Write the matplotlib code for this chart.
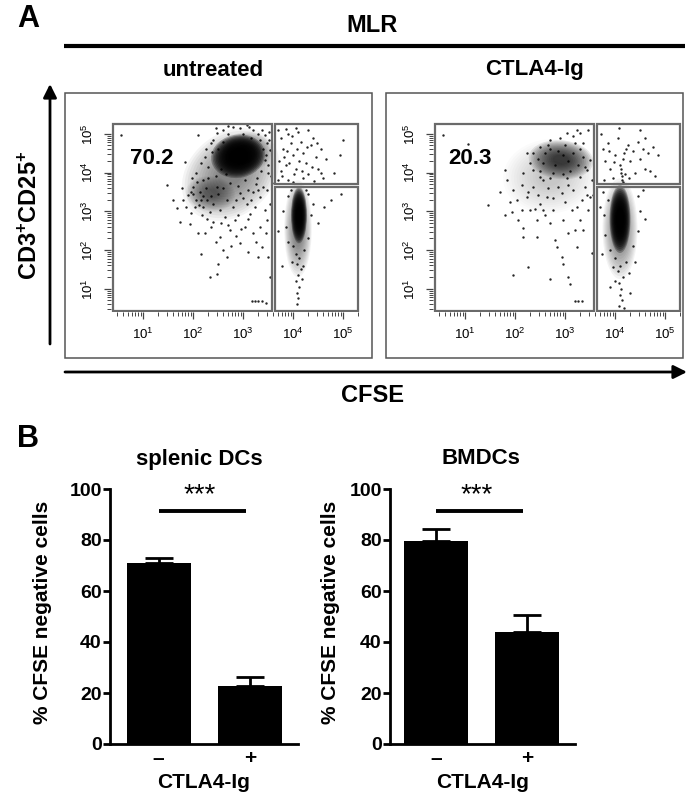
import matplotlib
matplotlib.use('Agg')
import matplotlib.pyplot as plt
from matplotlib.patches import Ellipse, Rectangle, FancyArrowPatch
from matplotlib.lines import Line2D
from matplotlib.ticker import FixedLocator
import numpy as np

plt.rcParams['font.family'] = ['Liberation Sans', 'DejaVu Sans']
plt.rcParams['mathtext.fontset'] = 'custom'
plt.rcParams['mathtext.rm'] = 'Liberation Sans'
plt.rcParams['mathtext.it'] = 'Liberation Sans:italic'
plt.rcParams['mathtext.bf'] = 'Liberation Sans:bold'

# ---------------- data ----------------
flow_conditions = ['untreated', 'CTLA4-Ig']
gate_percent = ['70.2', '20.3']
decades = [1, 2, 3, 4, 5]          # log10 fluorescence decades

# dense event clouds, log10 units: (centre x, centre y, width, height, angle, peak density)
untreated_clouds = [
    (2.75, 3.95, 1.80, 2.50, -25, 0.45),
    (2.35, 3.45, 1.00, 0.90, -20, 0.45),
    (3.10, 4.55, 1.00, 1.00, 0, 0.50),
    (2.90, 4.42, 1.05, 1.15, -30, 0.99),
    (4.10, 2.55, 0.55, 2.50, 0, 0.50),
    (4.12, 2.90, 0.32, 1.45, 0, 0.99),
]
ctla4_clouds = [
    (2.70, 3.90, 1.85, 1.95, -30, 0.22),
    (2.92, 4.33, 1.30, 1.00, -10, 0.72),
    (4.10, 2.55, 0.70, 2.60, 0, 0.50),
    (4.10, 2.80, 0.42, 1.75, 0, 0.99),
]

# individual events, (log10 CFSE, log10 CD3+CD25+)
untreated_events = [
    (0.55, 4.97), (2.10, 4.97), (1.47, 3.68), (1.77, 3.59), (1.95, 3.50), (1.73, 2.73), (1.83, 4.28),
    (1.93, 2.68), (2.03, 3.12), (2.17, 2.90), (2.23, 2.43), (2.33, 1.31), (2.47, 1.39), (2.40, 2.73),
    (2.53, 2.34), (2.60, 2.00), (2.73, 2.51), (2.83, 2.77), (2.93, 2.17), (3.03, 2.60), (3.13, 2.94),
    (3.20, 2.43), (3.33, 2.60), (3.37, 2.08), (3.30, 1.82), (3.47, 2.77), (3.53, 3.20), (3.50, 1.82),
    (3.53, 1.31), (2.50, 1.65), (2.67, 1.82), (2.10, 2.43), (1.90, 3.42), (1.67, 3.08), (2.20, 3.80),
    (2.30, 4.15), (2.40, 4.84), (2.60, 5.10), (2.93, 5.14), (3.20, 5.10), (3.43, 4.97), (3.53, 4.58),
    (3.50, 3.98), (3.40, 3.63), (3.33, 3.37), (3.20, 3.50), (3.07, 3.20), (2.93, 3.46), (2.80, 3.12),
    (2.67, 3.29), (2.53, 3.03), (2.40, 3.20), (2.27, 3.29), (2.13, 3.50), (2.07, 3.76), (2.00, 3.63),
    (2.20, 3.12), (2.33, 2.99), (2.63, 2.86), (2.90, 2.90), (3.23, 3.12), (3.43, 3.03), (3.57, 3.72),
    (2.47, 3.63), (2.73, 3.72), (3.03, 3.80), (3.27, 3.85), (3.43, 4.32), (3.47, 4.75), (2.37, 4.54),
    (2.23, 4.41), (2.47, 5.01), (2.80, 5.18), (3.07, 5.23), (3.33, 4.84),
    (2.15, 3.30), (2.25, 3.60), (2.35, 3.40), (2.50, 3.45), (2.60, 3.60), (2.45, 3.90), (2.55, 4.10),
    (2.65, 3.95), (2.30, 3.85), (3.10, 3.55), (3.25, 3.70), (3.35, 4.05), (3.40, 4.60), (3.30, 5.00),
    (3.15, 4.90), (2.60, 4.80), (2.50, 4.60), (2.70, 5.00), (3.00, 5.00), (2.20, 3.40), (2.05, 3.30),
    (2.90, 3.65), (2.85, 3.30), (3.00, 3.35), (3.15, 3.30), (2.95, 2.55), (2.70, 2.65), (2.55, 2.70),
    (3.10, 2.80), (2.35, 2.60), (1.95, 2.95), (2.45, 2.20), (3.25, 2.20), (2.85, 2.35), (3.45, 2.45),
    (1.60, 3.30), (1.85, 3.10), (2.75, 2.10), (3.10, 1.95), (2.15, 1.90),
    (3.45, 4.45), (3.50, 4.20), (3.52, 4.85), (3.38, 5.10), (3.12, 5.18), (2.70, 5.20), (2.45, 5.15),
    (3.55, 3.90), (3.48, 3.55), (3.30, 3.55), (3.52, 5.05), (2.35, 4.75), (2.25, 4.60), (2.15, 4.25),
    (2.05, 4.00), (1.98, 3.85), (2.12, 3.15), (2.28, 2.80), (2.00, 3.45), (1.80, 3.30),
    (3.17, 0.68), (3.23, 0.68), (3.30, 0.68), (3.37, 0.68), (3.45, 0.62),
    # upper-right gate
    (3.70, 5.10), (3.75, 4.90), (3.80, 4.60), (3.72, 4.30), (3.85, 4.20), (3.90, 5.00), (3.95, 4.75),
    (4.00, 4.45), (4.05, 4.10), (3.78, 3.90), (3.90, 3.80), (4.10, 5.05), (4.15, 4.80), (4.20, 4.50),
    (4.25, 4.25), (4.30, 3.95), (4.35, 4.70), (4.40, 4.90), (4.45, 4.40), (4.50, 4.10), (4.55, 4.60),
    (4.60, 3.85), (4.20, 3.85), (4.00, 3.75), (3.70, 3.80), (3.82, 4.40), (3.98, 4.95), (4.08, 4.60),
    (4.30, 5.10), (4.38, 4.15), (4.12, 4.30), (3.88, 4.55), (4.48, 4.75), (4.02, 3.95), (3.75, 4.05),
    (4.93, 4.45), (4.82, 4.00), (5.00, 4.85), (4.65, 4.35), (4.42, 3.78), (3.92, 4.25), (4.28, 4.65),
    (4.18, 4.05), (3.85, 5.12), (4.05, 5.15), (4.55, 4.00),
    # lower-right gate
    (4.05, 1.90), (4.12, 1.80), (4.08, 1.65), (4.15, 1.50), (4.10, 1.35), (4.05, 1.20), (4.12, 1.05),
    (4.08, 0.90), (4.10, 0.75), (4.07, 0.60), (3.98, 1.70), (4.20, 1.60), (4.00, 2.10), (4.22, 2.00),
    (3.90, 2.20), (4.30, 2.30), (3.85, 2.60), (4.35, 2.90), (3.80, 3.00), (4.40, 3.20), (3.90, 3.40),
    (4.30, 3.45), (3.70, 2.50), (4.50, 2.70), (4.62, 3.10), (4.75, 3.30), (4.95, 3.45), (3.78, 1.60),
    (4.18, 1.25), (3.95, 3.55), (4.25, 3.55),
]

ctla4_events = [
    (0.55, 4.97), (1.06, 4.74), (1.46, 3.16), (1.79, 4.06), (1.83, 3.81), (1.69, 3.50), (1.79, 2.90),
    (1.93, 2.99), (1.96, 3.55), (2.03, 3.29), (2.13, 3.68), (2.16, 2.56), (2.16, 2.34), (2.23, 3.37),
    (2.26, 1.56), (1.96, 1.35), (2.29, 3.03), (2.36, 3.63), (2.43, 2.77), (2.43, 2.34), (2.49, 3.20),
    (2.56, 3.81), (2.59, 2.90), (2.63, 3.37), (2.69, 2.69), (2.69, 1.26), (2.76, 3.03), (2.79, 2.25),
    (2.83, 2.08), (2.86, 3.63), (2.93, 1.82), (2.96, 2.77), (2.96, 1.65), (2.99, 3.25), (3.06, 2.43),
    (3.06, 1.31), (3.09, 1.13), (3.13, 3.03), (3.16, 3.55), (3.19, 2.51), (3.23, 2.08), (3.29, 2.77),
    (3.33, 3.29), (3.36, 2.51), (3.43, 3.42), (3.46, 3.03), (3.49, 3.37), (3.56, 3.42), (3.53, 1.91),
    (3.49, 4.32), (3.46, 5.10), (3.29, 5.01), (3.23, 5.10), (3.16, 4.93), (3.36, 4.75), (3.03, 5.01),
    (2.89, 4.88), (2.69, 4.84), (2.49, 4.67), (2.36, 4.50), (2.29, 4.24), (2.23, 4.50), (2.36, 4.06),
    (2.49, 3.89), (2.69, 3.85), (3.03, 3.85), (3.29, 3.89), (3.43, 4.06), (3.53, 3.81), (2.13, 3.03),
    (2.06, 2.77), (1.89, 3.25), (2.39, 3.07), (2.56, 3.03), (2.76, 3.33), (2.93, 3.46), (3.23, 3.12),
    (3.39, 3.63), (2.16, 3.98), (2.26, 3.50), (2.46, 3.42), (2.66, 3.59), (3.06, 3.68),
    (2.60, 4.50), (2.70, 4.60), (2.80, 4.20), (2.95, 4.45), (3.05, 4.30), (3.15, 4.50), (3.25, 4.20),
    (2.75, 4.00), (2.55, 4.25), (3.10, 4.05), (3.35, 4.40), (2.65, 4.70), (3.00, 4.70), (3.20, 4.75),
    (2.85, 4.55), (2.45, 4.35), (3.40, 4.15), (2.50, 4.05), (2.95, 3.95), (3.30, 4.60),
    (3.19, 0.68), (3.26, 0.68), (3.33, 0.68),
    # upper-right gate
    (3.72, 5.00), (3.75, 4.60), (3.80, 4.30), (3.85, 4.75), (3.90, 4.10), (3.95, 3.85), (4.00, 4.45),
    (4.05, 4.90), (4.10, 4.20), (4.12, 4.00), (4.13, 3.90), (4.14, 3.80), (4.15, 4.35), (4.16, 3.75),
    (4.11, 4.10), (4.18, 4.50), (4.20, 3.95), (4.25, 4.70), (4.30, 4.30), (4.35, 4.55), (4.40, 4.00),
    (4.45, 4.80), (4.50, 4.35), (4.55, 4.60), (4.60, 4.10), (4.65, 4.50), (4.70, 4.05), (4.75, 4.65),
    (4.80, 3.90), (4.85, 4.45), (3.78, 3.80), (4.08, 5.15), (4.50, 5.10), (3.88, 4.55), (4.22, 4.60),
    (4.28, 3.85), (4.60, 4.90), (3.98, 4.28),
    # lower-right gate
    (4.10, 1.60), (4.05, 1.45), (4.15, 1.30), (4.08, 1.15), (4.12, 1.00), (4.10, 0.85), (4.13, 0.70),
    (4.07, 0.55), (4.18, 0.50), (4.00, 1.80), (4.22, 1.70), (3.95, 1.55), (4.28, 1.40), (3.90, 2.00),
    (4.35, 2.10), (3.80, 2.40), (4.45, 2.50), (3.78, 2.90), (4.50, 3.00), (3.85, 3.30), (4.45, 3.40),
    (3.75, 3.50), (4.55, 3.55), (4.00, 1.20), (3.90, 1.05), (4.30, 0.90), (3.73, 1.90), (4.40, 1.70),
    (4.60, 2.80), (3.70, 3.10),
]

bar_groups = ['splenic DCs', 'BMDCs']
treatment_labels = ['\u2013', '+']
splenic_mean = [71.0, 22.7]
splenic_sem = [1.8, 3.7]
bmdc_mean = [79.5, 44.0]
bmdc_sem = [4.7, 6.4]

# ---------------- figure ----------------
W, H = 692, 795
fig = plt.figure(figsize=(W / 100, H / 100), dpi=100)


def fx(px):
    return px / W


def fy(py):
    return 1 - py / H


def box(l, t, r, b):
    return [fx(l), fy(b), (r - l) / W, (b - t) / H]


def ftext(px, py, s, **kw):
    fig.text(fx(px), fy(py), s, ha='center', va='center', **kw)


GATE = '#6a6a6a'
LAYERS = 14


def draw_cloud(ax, cx, cy, w, h, ang, peak):
    # nested translucent ellipses give a soft density falloff
    a = 1 - (1 - peak) ** (1 / LAYERS)
    for k in range(LAYERS):
        f = 1 - k * 0.8 / LAYERS
        ax.add_patch(Ellipse((cx, cy), w * f, h * f, angle=ang, facecolor='black',
                             edgecolor='none', alpha=a, zorder=1))


def flow_panel(rect, events, clouds, pct, pct_x):
    ax = fig.add_axes(rect)
    ax.set_xlim(0.36, 5.34)
    ax.set_ylim(0.40, 5.33)
    for c in clouds:
        draw_cloud(ax, *c)
    ev = np.array(events)
    ax.scatter(ev[:, 0], ev[:, 1], s=3.0, c='black', alpha=0.85, linewidths=0, zorder=2)
    ax.add_patch(Rectangle((0.40, 0.43), 3.18, 4.83, fill=False, ec=GATE, lw=1.6, zorder=3))
    ax.add_patch(Rectangle((3.64, 3.70), 1.65, 1.56, fill=False, ec=GATE, lw=1.6, zorder=3))
    ax.add_patch(Rectangle((3.64, 0.43), 1.65, 3.20, fill=False, ec=GATE, lw=1.6, zorder=3))
    ax.text(pct_x, 4.35, pct, ha='center', va='center', fontsize=16, fontweight='bold', zorder=4)
    for s in ax.spines.values():
        s.set_visible(False)
    labels = [r'$\mathregular{10^{%d}}$' % d for d in decades]
    ax.set_xticks(decades)
    ax.set_xticklabels(labels)
    ax.set_yticks(decades)
    ax.set_yticklabels(labels, rotation=90, va='center')
    minor = [d + np.log10(k) for d in range(0, 6) for k in range(2, 10)]
    ax.xaxis.set_minor_locator(FixedLocator([m for m in minor if 0.40 <= m <= 5.32]))
    ax.yaxis.set_minor_locator(FixedLocator([m for m in minor if 0.43 <= m <= 5.30]))
    ax.tick_params(which='major', direction='out', length=5, width=0.9, color='#444', labelsize=9.5)
    ax.tick_params(which='minor', direction='out', length=3, width=0.7, color='#444')
    ax.tick_params(axis='x', which='major', pad=6)
    ax.tick_params(axis='y', which='major', pad=6)
    return ax


flow_panel(box(111, 121, 360, 312), untreated_events, untreated_clouds, gate_percent[0], 1.17)
flow_panel(box(433, 121, 682, 312), ctla4_events, ctla4_clouds, gate_percent[1], 1.10)

# outer frames
for (l, t, r, b) in [(65, 93, 372, 358), (386, 93, 683, 358)]:
    fig.add_artist(Rectangle((fx(l), fy(b)), (r - l) / W, (b - t) / H, transform=fig.transFigure,
                             fill=False, ec='#555555', lw=1.1))

# MLR bar and arrows
fig.add_artist(Line2D([fx(64), fx(685)], [fy(46), fy(46)], color='black', lw=3,
                      solid_capstyle='butt', transform=fig.transFigure))
fig.add_artist(FancyArrowPatch((fx(50), fy(344)), (fx(50), fy(84)), transform=fig.transFigure,
                               arrowstyle='-|>', mutation_scale=20, lw=2, color='black',
                               shrinkA=0, shrinkB=0))
fig.add_artist(FancyArrowPatch((fx(65), fy(372)), (fx(687), fy(372)), transform=fig.transFigure,
                               arrowstyle='-|>', mutation_scale=20, lw=2, color='black',
                               shrinkA=0, shrinkB=0))

ftext(28, 19, 'A', fontsize=22, fontweight='bold')
ftext(372, 26, 'MLR', fontsize=17, fontweight='bold')
ftext(213, 70, flow_conditions[0], fontsize=16, fontweight='bold')
ftext(535, 70, flow_conditions[1], fontsize=16, fontweight='bold')
ftext(372, 395, 'CFSE', fontsize=17, fontweight='bold')
ftext(30, 215, r'$\mathbf{CD3^{+}CD25^{+}}$', fontsize=17, rotation=90)

# ---------------- panel B ----------------
ftext(28, 439, 'B', fontsize=22, fontweight='bold')


def bar_panel(rect, means, sems, title, title_x, xlim, ylab_x):
    ax = fig.add_axes(rect)
    x = np.arange(len(means))
    ax.bar(x, means, width=0.7, color='black', zorder=2)
    ax.errorbar(x, means, yerr=[np.zeros(len(sems)), sems], fmt='none', ecolor='black',
                elinewidth=2, capsize=10, capthick=2, zorder=1)
    ax.set_xlim(*xlim)
    ax.set_ylim(0, 100)
    ax.set_yticks(range(0, 101, 20))
    ax.set_xticks(x)
    ax.set_xticklabels(treatment_labels)
    for s in ['top', 'right']:
        ax.spines[s].set_visible(False)
    for s in ['left', 'bottom']:
        ax.spines[s].set_linewidth(2)
    ax.tick_params(axis='y', direction='out', length=5, width=2, pad=1, labelsize=14)
    ax.tick_params(axis='x', length=0, pad=3.5, labelsize=15)
    for lab in ax.get_xticklabels() + ax.get_yticklabels():
        lab.set_fontweight('bold')
    ax.plot([0, 0.95], [91.5, 91.5], color='black', lw=2.8, solid_capstyle='butt', clip_on=False)
    ax.text(0.45, 97.5, '***', ha='center', va='center', fontsize=20)
    ftext(title_x, 459, title, fontsize=16, fontweight='bold')
    ftext(rect[0] * W + rect[2] * W / 2, 782, 'CTLA4-Ig', fontsize=15, fontweight='bold')
    ftext(ylab_x, 612, '% CFSE negative cells', fontsize=15, fontweight='bold', rotation=90)
    return ax


bar_panel(box(110, 489, 298, 744), splenic_mean, splenic_sem, bar_groups[0], 199, (-0.53, 1.52), 43)
bar_panel(box(390, 489, 575, 744), bmdc_mean, bmdc_sem, bar_groups[1], 481, (-0.50, 1.52), 331)

fig.savefig('out.png', dpi=100)
